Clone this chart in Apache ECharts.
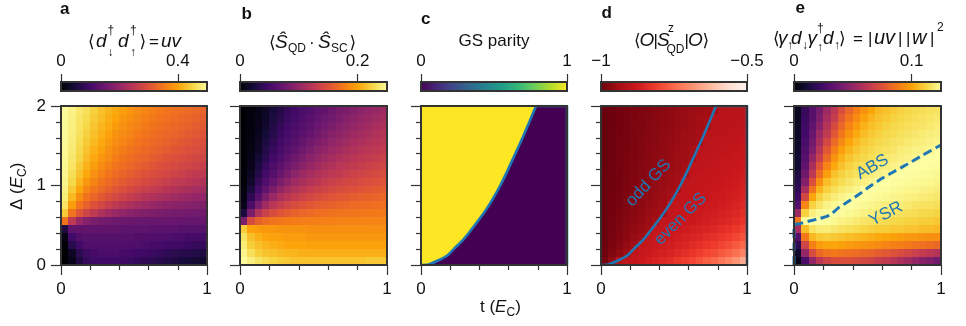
<!DOCTYPE html>
<html><head><meta charset="utf-8">
<script src="https://cdn.jsdelivr.net/npm/echarts@6/dist/echarts.min.js"></script>
<style>html,body{margin:0;padding:0;background:#fff}#chart{width:966px;height:326px}</style>
</head><body><div id="chart"></div>
<script>
// ---------- data ----------
const T_CENTERS = [0.025,0.075,0.125,0.175,0.225,0.275,0.325,0.375,0.425,0.475,0.525,0.575,0.625,0.675,0.725,0.775,0.825,0.875,0.925,0.975];
const DELTA_CENTERS = [0.05,0.15,0.25,0.35,0.45,0.55,0.65,0.75,0.85,0.95,1.05,1.15,1.25,1.35,1.45,1.55,1.65,1.75,1.85,1.95];
const X_TICKS = [0, 1];
const Y_TICKS = [0, 1, 2];

// panel a: <d_dn^+ d_up^+> = uv   (rows = Delta, cols = t)
const PAIR_UV = [
[0.0,0.02,0.06,0.085,0.095,0.1,0.1,0.1,0.095,0.09,0.085,0.08,0.075,0.07,0.065,0.06,0.055,0.05,0.045,0.04],
[0.0,0.03,0.075,0.095,0.105,0.11,0.11,0.11,0.105,0.105,0.1,0.095,0.09,0.085,0.08,0.075,0.07,0.07,0.065,0.06],
[0.005,0.07,0.1,0.115,0.12,0.12,0.12,0.12,0.12,0.115,0.115,0.11,0.105,0.105,0.1,0.095,0.095,0.09,0.085,0.085],
[0.015,0.1,0.12,0.125,0.125,0.125,0.125,0.125,0.125,0.125,0.12,0.12,0.12,0.115,0.115,0.11,0.11,0.105,0.105,0.105],
[0.06,0.135,0.14,0.14,0.14,0.14,0.14,0.14,0.135,0.135,0.135,0.135,0.13,0.13,0.13,0.13,0.125,0.125,0.125,0.125],
[0.345,0.253,0.205,0.182,0.169,0.163,0.158,0.155,0.153,0.151,0.15,0.149,0.148,0.148,0.147,0.147,0.146,0.146,0.146,0.145],
[0.438,0.345,0.305,0.276,0.253,0.233,0.218,0.205,0.196,0.188,0.182,0.177,0.173,0.17,0.167,0.164,0.163,0.161,0.16,0.158],
[0.465,0.391,0.345,0.32,0.299,0.281,0.266,0.253,0.24,0.23,0.22,0.212,0.205,0.199,0.194,0.19,0.186,0.182,0.179,0.176],
[0.477,0.419,0.374,0.345,0.327,0.31,0.296,0.284,0.273,0.262,0.253,0.243,0.235,0.228,0.222,0.216,0.21,0.205,0.201,0.197],
[0.482,0.438,0.4,0.367,0.345,0.331,0.318,0.305,0.295,0.285,0.276,0.268,0.26,0.253,0.245,0.239,0.233,0.228,0.222,0.218],
[0.486,0.452,0.415,0.385,0.363,0.345,0.333,0.323,0.312,0.302,0.294,0.286,0.278,0.272,0.265,0.258,0.253,0.247,0.241,0.236],
[0.487,0.459,0.428,0.402,0.377,0.36,0.345,0.335,0.326,0.316,0.308,0.3,0.293,0.287,0.28,0.274,0.269,0.262,0.255,0.253],
[0.489,0.465,0.438,0.413,0.391,0.372,0.358,0.345,0.336,0.328,0.321,0.313,0.305,0.299,0.293,0.287,0.281,0.276,0.272,0.266],
[0.49,0.47,0.448,0.423,0.403,0.383,0.37,0.356,0.345,0.337,0.33,0.324,0.316,0.309,0.303,0.298,0.293,0.287,0.282,0.277],
[0.492,0.474,0.453,0.43,0.411,0.395,0.378,0.366,0.354,0.345,0.338,0.331,0.326,0.319,0.313,0.307,0.302,0.297,0.292,0.288],
[0.493,0.477,0.457,0.438,0.419,0.404,0.388,0.374,0.364,0.354,0.345,0.338,0.332,0.327,0.322,0.316,0.31,0.305,0.3,0.296],
[0.493,0.479,0.461,0.445,0.427,0.411,0.398,0.38,0.371,0.362,0.353,0.345,0.339,0.333,0.329,0.324,0.319,0.313,0.309,0.304],
[0.494,0.481,0.465,0.451,0.432,0.417,0.405,0.391,0.378,0.369,0.361,0.352,0.345,0.339,0.334,0.33,0.326,0.321,0.315,0.311],
[0.494,0.482,0.468,0.456,0.438,0.424,0.41,0.4,0.386,0.376,0.367,0.359,0.352,0.345,0.34,0.335,0.331,0.327,0.323,0.318],
[0.495,0.484,0.471,0.46,0.443,0.429,0.416,0.405,0.394,0.382,0.373,0.366,0.358,0.351,0.345,0.34,0.336,0.332,0.328,0.324]
];

// panel b: <S_QD . S_SC>
const SPIN_CORR = [
[0.248,0.24,0.233,0.228,0.223,0.22,0.218,0.215,0.215,0.215,0.215,0.215,0.215,0.215,0.215,0.215,0.215,0.218,0.218,0.218],
[0.243,0.23,0.22,0.215,0.213,0.21,0.208,0.208,0.205,0.205,0.205,0.205,0.205,0.205,0.205,0.205,0.205,0.205,0.205,0.205],
[0.238,0.22,0.213,0.208,0.205,0.203,0.2,0.2,0.2,0.198,0.198,0.198,0.198,0.198,0.198,0.198,0.198,0.198,0.198,0.198],
[0.233,0.213,0.205,0.2,0.198,0.198,0.195,0.195,0.195,0.193,0.193,0.193,0.193,0.193,0.193,0.193,0.193,0.193,0.193,0.193],
[0.22,0.2,0.195,0.193,0.193,0.19,0.19,0.19,0.19,0.188,0.188,0.188,0.188,0.188,0.188,0.188,0.188,0.188,0.188,0.188],
[0.085,0.145,0.161,0.168,0.172,0.174,0.176,0.177,0.178,0.179,0.179,0.18,0.18,0.181,0.181,0.181,0.181,0.182,0.182,0.182],
[0.028,0.085,0.119,0.135,0.145,0.152,0.157,0.161,0.164,0.166,0.168,0.169,0.171,0.172,0.173,0.173,0.174,0.175,0.175,0.176],
[0.01,0.056,0.085,0.108,0.123,0.132,0.139,0.145,0.15,0.154,0.157,0.159,0.161,0.163,0.164,0.166,0.167,0.168,0.169,0.17],
[0.006,0.039,0.064,0.085,0.103,0.115,0.124,0.131,0.136,0.141,0.145,0.149,0.152,0.154,0.156,0.158,0.16,0.161,0.162,0.164],
[0.004,0.028,0.052,0.069,0.085,0.1,0.11,0.119,0.125,0.13,0.135,0.138,0.142,0.145,0.148,0.15,0.152,0.154,0.156,0.157],
[0.003,0.019,0.042,0.058,0.072,0.085,0.097,0.107,0.114,0.12,0.125,0.13,0.134,0.137,0.14,0.142,0.145,0.147,0.149,0.151],
[0.002,0.014,0.034,0.051,0.062,0.074,0.085,0.096,0.104,0.111,0.117,0.122,0.126,0.129,0.133,0.136,0.138,0.141,0.143,0.145],
[0.001,0.01,0.028,0.044,0.056,0.066,0.076,0.085,0.095,0.102,0.108,0.114,0.119,0.123,0.126,0.129,0.132,0.135,0.137,0.139],
[0.001,0.009,0.023,0.037,0.05,0.059,0.068,0.077,0.085,0.094,0.1,0.106,0.111,0.116,0.12,0.123,0.126,0.129,0.132,0.134],
[0.001,0.007,0.017,0.032,0.044,0.054,0.062,0.069,0.078,0.085,0.093,0.099,0.104,0.109,0.114,0.117,0.121,0.124,0.126,0.129],
[0.001,0.006,0.015,0.028,0.039,0.049,0.057,0.064,0.071,0.079,0.085,0.092,0.098,0.103,0.107,0.112,0.115,0.119,0.122,0.124],
[0.001,0.005,0.013,0.024,0.034,0.045,0.053,0.059,0.066,0.072,0.079,0.085,0.092,0.097,0.102,0.106,0.11,0.113,0.117,0.12],
[0.001,0.005,0.01,0.019,0.031,0.041,0.049,0.056,0.061,0.067,0.074,0.08,0.085,0.091,0.096,0.1,0.105,0.108,0.112,0.115],
[0,0.004,0.009,0.017,0.028,0.036,0.045,0.052,0.058,0.063,0.069,0.075,0.08,0.085,0.091,0.095,0.1,0.103,0.107,0.11],
[0,0.004,0.009,0.015,0.025,0.033,0.042,0.049,0.055,0.059,0.065,0.07,0.076,0.081,0.085,0.09,0.095,0.099,0.102,0.106]
];

// panel c: parity boundary (t, Delta) and the region above it
const PARITY_BOUNDARY = [[0,0],[0.05,0.005],[0.12,0.06],[0.18,0.12],[0.224,0.2],[0.28,0.3],[0.326,0.4],[0.368,0.5],[0.409,0.6],[0.447,0.7],[0.482,0.8],[0.543,1.0],[0.596,1.2],[0.646,1.4],[0.696,1.6],[0.742,1.8],[0.788,2.0]];
const PARITY_EDGE = [[0.788,2.0],[1,2],[1,0]];
const PARITY_FULL = [[0,2],[1,2]];
const PARITY_ODD = 1, PARITY_EVEN = 0;

// panel d: <O|S^z_QD|O>
const SZ_QD = [
[-0.985,-0.956,-0.905,-0.895,-0.886,-0.875,-0.865,-0.854,-0.846,-0.836,-0.82,-0.809,-0.796,-0.78,-0.764,-0.751,-0.73,-0.711,-0.685,-0.65],
[-0.992,-0.975,-0.959,-0.942,-0.893,-0.884,-0.876,-0.868,-0.862,-0.854,-0.842,-0.834,-0.823,-0.811,-0.799,-0.789,-0.772,-0.758,-0.738,-0.711],
[-0.994,-0.981,-0.968,-0.955,-0.942,-0.89,-0.884,-0.877,-0.872,-0.866,-0.856,-0.85,-0.841,-0.832,-0.822,-0.813,-0.8,-0.789,-0.772,-0.751],
[-0.995,-0.984,-0.973,-0.962,-0.951,-0.941,-0.889,-0.884,-0.88,-0.875,-0.867,-0.861,-0.854,-0.846,-0.838,-0.831,-0.821,-0.811,-0.798,-0.78],
[-0.996,-0.986,-0.977,-0.967,-0.958,-0.949,-0.939,-0.89,-0.886,-0.882,-0.875,-0.871,-0.865,-0.859,-0.852,-0.846,-0.837,-0.83,-0.818,-0.804],
[-0.996,-0.988,-0.979,-0.971,-0.963,-0.954,-0.946,-0.937,-0.892,-0.888,-0.883,-0.879,-0.875,-0.869,-0.864,-0.859,-0.852,-0.846,-0.837,-0.825],
[-0.996,-0.989,-0.981,-0.974,-0.966,-0.958,-0.951,-0.943,-0.936,-0.891,-0.887,-0.883,-0.879,-0.875,-0.87,-0.866,-0.86,-0.854,-0.846,-0.836],
[-0.997,-0.99,-0.983,-0.976,-0.969,-0.962,-0.955,-0.948,-0.941,-0.895,-0.89,-0.888,-0.884,-0.88,-0.876,-0.872,-0.867,-0.862,-0.855,-0.846],
[-0.997,-0.99,-0.984,-0.977,-0.971,-0.964,-0.958,-0.951,-0.945,-0.938,-0.893,-0.891,-0.888,-0.884,-0.881,-0.877,-0.873,-0.868,-0.862,-0.854],
[-0.997,-0.991,-0.985,-0.979,-0.973,-0.966,-0.96,-0.954,-0.948,-0.942,-0.936,-0.893,-0.89,-0.887,-0.884,-0.881,-0.876,-0.872,-0.867,-0.86],
[-0.997,-0.991,-0.986,-0.98,-0.974,-0.968,-0.962,-0.956,-0.951,-0.945,-0.939,-0.895,-0.893,-0.89,-0.887,-0.884,-0.88,-0.876,-0.871,-0.865],
[-0.997,-0.992,-0.986,-0.981,-0.975,-0.97,-0.964,-0.958,-0.953,-0.947,-0.942,-0.936,-0.895,-0.892,-0.89,-0.887,-0.884,-0.881,-0.876,-0.87],
[-0.998,-0.992,-0.987,-0.982,-0.976,-0.971,-0.965,-0.96,-0.955,-0.949,-0.944,-0.939,-0.897,-0.895,-0.893,-0.891,-0.887,-0.885,-0.881,-0.875],
[-0.998,-0.993,-0.987,-0.982,-0.977,-0.972,-0.967,-0.962,-0.957,-0.952,-0.946,-0.941,-0.936,-0.898,-0.896,-0.894,-0.891,-0.889,-0.885,-0.881],
[-0.998,-0.993,-0.988,-0.983,-0.978,-0.973,-0.968,-0.963,-0.958,-0.953,-0.948,-0.943,-0.938,-0.9,-0.899,-0.897,-0.895,-0.893,-0.89,-0.886],
[-0.998,-0.993,-0.988,-0.984,-0.979,-0.974,-0.969,-0.965,-0.96,-0.955,-0.95,-0.946,-0.941,-0.936,-0.902,-0.9,-0.899,-0.897,-0.895,-0.891],
[-0.998,-0.993,-0.989,-0.984,-0.98,-0.975,-0.97,-0.966,-0.961,-0.957,-0.952,-0.947,-0.943,-0.938,-0.904,-0.903,-0.901,-0.9,-0.898,-0.895],
[-0.998,-0.994,-0.989,-0.985,-0.98,-0.976,-0.971,-0.967,-0.962,-0.958,-0.954,-0.949,-0.945,-0.94,-0.936,-0.905,-0.904,-0.903,-0.901,-0.899],
[-0.998,-0.994,-0.989,-0.985,-0.981,-0.976,-0.972,-0.968,-0.963,-0.959,-0.955,-0.951,-0.946,-0.942,-0.938,-0.907,-0.906,-0.905,-0.904,-0.902],
[-0.998,-0.994,-0.99,-0.986,-0.981,-0.977,-0.973,-0.969,-0.965,-0.961,-0.956,-0.952,-0.948,-0.944,-0.94,-0.936,-0.908,-0.907,-0.906,-0.905]
];

// panel e: <gamma d gamma^+ d> = |uv||w|^2
const YSR_WEIGHT = [
[0.004,0.0275,0.05,0.0625,0.069,0.0725,0.074,0.074,0.0725,0.071,0.069,0.066,0.064,0.061,0.0575,0.054,0.05,0.046,0.044,0.04],
[0.01,0.05,0.0725,0.0825,0.086,0.0875,0.086,0.085,0.084,0.0825,0.081,0.079,0.0775,0.075,0.0725,0.07,0.0675,0.065,0.0625,0.06],
[0.019,0.069,0.09,0.0975,0.1,0.1,0.099,0.0975,0.096,0.095,0.094,0.0925,0.091,0.09,0.089,0.0875,0.086,0.085,0.084,0.0825],
[0.031,0.0875,0.105,0.109,0.11,0.109,0.1075,0.106,0.105,0.104,0.1025,0.101,0.1,0.099,0.0975,0.096,0.096,0.095,0.094,0.094],
[0.056,0.106,0.116,0.119,0.119,0.1175,0.116,0.115,0.114,0.1125,0.111,0.11,0.11,0.109,0.109,0.1075,0.1075,0.106,0.106,0.105],
[0.0875,0.124,0.125,0.125,0.124,0.1225,0.121,0.12,0.1185,0.117,0.116,0.1145,0.114,0.113,0.1126,0.1115,0.111,0.11,0.11,0.1086],
[0.0525,0.111,0.12,0.123,0.124,0.125,0.124,0.123,0.122,0.1206,0.1195,0.118,0.1176,0.1165,0.116,0.115,0.1145,0.1134,0.1131,0.112],
[0.031,0.091,0.111,0.117,0.121,0.123,0.125,0.125,0.124,0.123,0.122,0.121,0.12,0.119,0.119,0.118,0.117,0.116,0.116,0.115],
[0.024,0.07,0.1,0.111,0.116,0.119,0.1215,0.1235,0.125,0.1246,0.124,0.1233,0.1225,0.1218,0.1211,0.1203,0.1198,0.1189,0.1184,0.1174],
[0.02,0.0565,0.086,0.104,0.111,0.115,0.118,0.12,0.122,0.125,0.125,0.1245,0.124,0.1235,0.1229,0.1221,0.1218,0.121,0.1205,0.1196],
[0.0175,0.045,0.074,0.094,0.106,0.111,0.114,0.117,0.119,0.1205,0.122,0.125,0.125,0.1245,0.1241,0.1236,0.1231,0.1226,0.1221,0.1214],
[0.015,0.039,0.063,0.084,0.098,0.107,0.111,0.114,0.116,0.118,0.1195,0.121,0.122,0.125,0.1249,0.1245,0.1243,0.1239,0.1234,0.1229],
[0.011,0.034,0.057,0.076,0.091,0.101,0.107,0.111,0.114,0.1155,0.117,0.119,0.12,0.121,0.122,0.125,0.1249,0.1246,0.1244,0.124],
[0.011,0.031,0.05,0.067,0.083,0.095,0.103,0.108,0.111,0.113,0.115,0.1165,0.118,0.119,0.12,0.121,0.122,0.125,0.1249,0.1246],
[0.01,0.029,0.043,0.061,0.077,0.089,0.098,0.104,0.108,0.111,0.113,0.115,0.116,0.117,0.119,0.12,0.121,0.121,0.122,0.125],
[0.009,0.027,0.04,0.0565,0.07,0.083,0.092,0.1,0.105,0.109,0.111,0.113,0.1145,0.116,0.117,0.118,0.119,0.12,0.121,0.1215],
[0.008,0.025,0.037,0.052,0.064,0.077,0.087,0.095,0.101,0.106,0.109,0.111,0.113,0.114,0.1154,0.1165,0.1175,0.1186,0.1195,0.1203],
[0.0075,0.024,0.034,0.047,0.06,0.072,0.082,0.091,0.097,0.103,0.1065,0.109,0.111,0.113,0.114,0.115,0.116,0.117,0.118,0.119],
[0.007,0.0225,0.032,0.043,0.0565,0.066,0.078,0.086,0.093,0.099,0.104,0.107,0.109,0.111,0.1126,0.1139,0.1149,0.1159,0.1168,0.1178],
[0.006,0.021,0.031,0.041,0.053,0.063,0.073,0.082,0.089,0.095,0.1,0.105,0.107,0.109,0.111,0.1125,0.1136,0.1146,0.1156,0.1164]
];
const YSR_ABS_BOUNDARY = [[0,0],[0,0.5],[0.04,0.52],[0.1,0.55],[0.175,0.585],[0.245,0.63],[0.3,0.715],[0.375,0.805],[0.45,0.9],[0.517,0.99],[0.6,1.09],[0.675,1.17],[0.744,1.24],[0.8,1.3],[0.875,1.38],[1,1.51]];

// colour bar ranges and ticks
const CBAR_MIN = [0, 0, 0, -1, 0];
const CBAR_MAX = [0.5, 0.25, 1, -0.5, 0.125];
const CBAR_TICKS = [[0, 0.4], [0, 0.2], [0, 1], [-1, -0.5], [0, 0.1]];

// ---------- styles ----------
const INFERNO = ['#000004','#160b39','#420a68','#6a176e','#932667','#bc3754','#dd513a','#f37819','#fca50a','#f6d746','#fcffa4'];
const VIRIDIS = ['#440154','#482878','#3e4989','#31688e','#26828e','#1f9e89','#35b779','#6ece58','#b5de2b','#fde725'];
const REDS_R = ['#67000d','#a50f15','#cb181d','#ef3b2c','#fb6a4a','#fc9272','#fcbba1','#fee0d2','#fff5f0'];
const CMAPS = [INFERNO, INFERNO, VIRIDIS, REDS_R, INFERNO];
const FONT = '"Liberation Sans", "DejaVu Sans", Arial, sans-serif';
const AX = '#333';
const TXT = '#111';
const BLUE = '#1f77b4';
const PLOT_LEFT = [61, 240, 421, 601, 794];
const PLOT_W = [146, 147, 146, 146, 147];
const PLOT_TOP = 106, PLOT_H = 159;
const CB_TOP = 82, CB_H = 9;

const chart = echarts.init(document.getElementById('chart'), null, {renderer: 'canvas'});

function cells(grid) {
  const out = [];
  grid.forEach((row, j) => row.forEach((v, i) => out.push([T_CENTERS[i], DELTA_CENTERS[j], v])));
  return out;
}
const T_STEP = T_CENTERS[1] - T_CENTERS[0];
const D_STEP = DELTA_CENTERS[1] - DELTA_CENTERS[0];
function renderCell(params, api) {
  const t = api.value(0), d = api.value(1);
  const p0 = api.coord([t - T_STEP / 2, d + D_STEP / 2]);
  const p1 = api.coord([t + T_STEP / 2, d - D_STEP / 2]);
  const x0 = Math.round(p0[0]), y0 = Math.round(p0[1]);
  const x1 = Math.round(p1[0]), y1 = Math.round(p1[1]);
  return {type: 'rect', shape: {x: x0, y: y0, width: x1 - x0, height: y1 - y0},
          style: {fill: api.visual('color')}};
}
function gradient(colors) {
  return {type: 'linear', x: 0, y: 0, x2: 1, y2: 0,
          colorStops: colors.map((c, i) => ({offset: i / (colors.length - 1), color: c}))};
}

const grids = [], xAxes = [], yAxes = [];
for (let i = 0; i < 5; i++) {
  grids.push({left: PLOT_LEFT[i], top: PLOT_TOP, width: PLOT_W[i], height: PLOT_H, show: false});
}
for (let i = 0; i < 5; i++) {
  grids.push({left: PLOT_LEFT[i], top: CB_TOP, width: PLOT_W[i], height: CB_H, show: true,
              backgroundColor: gradient(CMAPS[i]), borderColor: AX, borderWidth: 2});
}
for (let i = 0; i < 5; i++) {
  xAxes.push({
    gridIndex: i, type: 'value', position: 'bottom', min: X_TICKS[0], max: X_TICKS[X_TICKS.length - 1], interval: 1, z: 10,
    axisLine: {show: true, onZero: false, lineStyle: {color: AX, width: 2}},
    axisTick: {show: true, length: 10, lineStyle: {color: AX, width: 1.2}},
    minorTick: {show: true, splitNumber: 5, length: 5, lineStyle: {color: AX, width: 1.2}},
    axisLabel: {show: true, fontSize: 17, color: TXT, fontFamily: FONT, margin: 16},
    splitLine: {show: false}, minorSplitLine: {show: false}
  });
  xAxes.push({
    gridIndex: i, type: 'value', position: 'top', min: 0, max: 1, z: 10,
    axisLine: {show: true, onZero: false, lineStyle: {color: AX, width: 2}},
    axisTick: {show: false}, axisLabel: {show: false}, splitLine: {show: false}
  });
  yAxes.push({
    gridIndex: i, type: 'value', position: 'left', min: Y_TICKS[0], max: Y_TICKS[Y_TICKS.length - 1], interval: 1, z: 10,
    axisLine: {show: true, onZero: false, lineStyle: {color: AX, width: 2}},
    axisTick: {show: true, length: 10, lineStyle: {color: AX, width: 1.2}},
    minorTick: {show: true, splitNumber: 5, length: 5, lineStyle: {color: AX, width: 1.2}},
    axisLabel: {show: i === 0, fontSize: 17, color: TXT, fontFamily: FONT, margin: 15},
    splitLine: {show: false}, minorSplitLine: {show: false}
  });
  yAxes.push({
    gridIndex: i, type: 'value', position: 'right', min: 0, max: 2, z: 10,
    axisLine: {show: true, onZero: false, lineStyle: {color: AX, width: 2}},
    axisTick: {show: false}, axisLabel: {show: false}, splitLine: {show: false}
  });
}
const fmt = v => (v < 0 ? '\u2212' + Math.abs(v) : String(v));
for (let i = 0; i < 5; i++) {
  xAxes.push({
    gridIndex: 5 + i, type: 'value', position: 'top', min: CBAR_MIN[i], max: CBAR_MAX[i], z: 10,
    axisLine: {show: false, onZero: false},
    axisTick: {show: true, customValues: CBAR_TICKS[i], length: 8, inside: false, lineStyle: {color: AX, width: 1.2}},
    axisLabel: {show: true, customValues: CBAR_TICKS[i], fontSize: 17, color: TXT, fontFamily: FONT, margin: 12, formatter: fmt},
    splitLine: {show: false}
  });
  yAxes.push({gridIndex: 5 + i, type: 'value', min: 0, max: 1, show: false});
}

const series = [];
const vms = [];
function heat(i, grid) {
  series.push({type: 'custom', xAxisIndex: 2 * i, yAxisIndex: 2 * i, renderItem: renderCell,
               data: cells(grid), encode: {x: 0, y: 1}, z: 2, silent: true});
  vms.push({type: 'continuous', show: false, dimension: 2, seriesIndex: series.length - 1,
            min: CBAR_MIN[i], max: CBAR_MAX[i], inRange: {color: CMAPS[i]}});
}
heat(0, PAIR_UV);
heat(1, SPIN_CORR);
// panel c
series.push({type: 'line', xAxisIndex: 4, yAxisIndex: 4, data: PARITY_FULL, symbol: 'none', z: 2,
             lineStyle: {width: 0}, areaStyle: {color: VIRIDIS[PARITY_EVEN * (VIRIDIS.length - 1)], opacity: 1, origin: 'start'}});
series.push({type: 'line', xAxisIndex: 4, yAxisIndex: 4, data: PARITY_BOUNDARY, symbol: 'none', z: 2,
             lineStyle: {width: 0}, areaStyle: {color: VIRIDIS[PARITY_ODD * (VIRIDIS.length - 1)], opacity: 1, origin: 'end'}});
const contour = (xi) => [
  {type: 'line', xAxisIndex: xi, yAxisIndex: xi, data: PARITY_BOUNDARY, symbol: 'none', z: 4, smooth: 0.2,
   lineStyle: {color: BLUE, width: 2.6}},
  {type: 'line', xAxisIndex: xi, yAxisIndex: xi, data: PARITY_EDGE, symbol: 'none', z: 4,
   lineStyle: {color: BLUE, width: 2.6}}
];
series.push(...contour(4));
heat(3, SZ_QD);
series.push(...contour(6));
heat(4, YSR_WEIGHT);
series.push({type: 'line', xAxisIndex: 8, yAxisIndex: 8, data: YSR_ABS_BOUNDARY, symbol: 'none', z: 4, smooth: 0.3,
             lineStyle: {color: BLUE, width: 3, type: [9, 4.5]}});

// ---------- text ----------
function T(x, base, text, size, style, weight, extra) {
  return Object.assign({type: 'text', x: x, y: base - 0.35 * size, z: 100, silent: true,
    style: {text: text, fill: TXT, font: (style || 'normal') + ' ' + (weight || 'normal') + ' ' + size + 'px ' + FONT,
            align: 'left', verticalAlign: 'middle', textAlign: 'left', textVerticalAlign: 'middle'}}, extra || {});
}
function C(x, base, text, size) {
  const e = T(x, base, text, size);
  e.style.align = 'center'; e.style.textAlign = 'center';
  return e;
}
function ann(x, y, text, deg) {
  return {type: 'text', x: x, y: y, rotation: deg * Math.PI / 180, z: 100, silent: true,
    style: {text: text, fill: BLUE, font: 'normal normal 17px ' + FONT, align: 'center', verticalAlign: 'middle',
            textAlign: 'center', textVerticalAlign: 'middle'}};
}
const M = 17, MI = 19, S = 12;
const gfx = [
  // panel letters
  T(60, 15.7, 'a', 17, 'normal', 'bold'),
  T(241.5, 20, 'b', 17, 'normal', 'bold'),
  T(421, 25, 'c', 17, 'normal', 'bold'),
  T(601.5, 19, 'd', 17, 'normal', 'bold'),
  T(795.5, 14, 'e', 17, 'normal', 'bold'),
  // title a
  T(88, 48, '\u27E8', M), T(96, 48, 'd', MI, 'italic'), T(107.5, 35, '\u2020', S), T(107.5, 57, '\u2193', S),
  T(118, 48, 'd', MI, 'italic'), T(130, 35, '\u2020', S), T(130, 57, '\u2191', S),
  T(139.5, 48, '\u27E9', M), T(149, 48, '=', M), T(161, 48, 'uv', MI, 'italic'),
  // title b
  T(269, 49, '\u27E8', M), T(275, 49, '\u015C', MI, 'italic'), T(288, 53, 'QD', S),
  T(309, 49, '\u00B7', M), T(318, 49, '\u015C', MI, 'italic'), T(331, 53, 'SC', S), T(349.5, 49, '\u27E9', M),
  // title c
  C(494, 47, 'GS parity', M),
  // title d
  T(634, 47, '\u27E8', M), T(639.5, 47, 'O', MI, 'italic'), T(653.5, 47, '|', M), T(657, 47, 'S', MI, 'italic'),
  T(668, 33, 'z', S), T(666.5, 54, 'QD', S), T(684.5, 47, '|', M), T(688, 47, 'O', MI, 'italic'), T(702.5, 47, '\u27E9', M),
  // title e
  T(773, 45, '\u27E8', M), T(778, 45, '\u03B3', MI, 'italic'), T(787, 50, '\u2191', S),
  T(791, 45, 'd', MI, 'italic'), T(802, 50, '\u2193', S),
  T(807.5, 45, '\u03B3', MI, 'italic'), T(817, 33, '\u2020', S), T(817, 52, '\u2191', S),
  T(823, 45, 'd', MI, 'italic'), T(834, 50, '\u2191', S), T(839, 45, '\u27E9', M),
  T(853, 45, '=', M), T(868, 45, '|', M), T(874, 45, 'uv', 20, 'italic'), T(898, 45, '|', M), T(906, 45, '|', M),
  T(912, 45, 'w', 20, 'italic'), T(930, 45, '|', M), T(937, 32, '2', S),
  // x axis title
  T(480, 313, 't (', M), T(495, 313, 'E', M, 'italic'), T(506.4, 317, 'C', S), T(515.2, 313, ')', M),
  // y axis title (rotated group)
  {type: 'group', x: 23, y: 186, rotation: Math.PI / 2, children: [
    T(-24, 0, '\u0394 (', M), T(-2.2, 0, 'E', M, 'italic'), T(9.1, 4, 'C', S), T(17.8, 0, ')', M)
  ]},
  // annotations
  ann(648.5, 183, 'odd GS', 47),
  ann(680.5, 219, 'even GS', 45),
  ann(872.5, 167, 'ABS', 30),
  ann(886, 214, 'YSR', 27)
];

chart.setOption({
  animation: false,
  backgroundColor: '#fff',
  textStyle: {fontFamily: FONT},
  grid: grids, xAxis: xAxes, yAxis: yAxes,
  visualMap: vms,
  series: series,
  graphic: {elements: gfx}
});
</script></body></html>
